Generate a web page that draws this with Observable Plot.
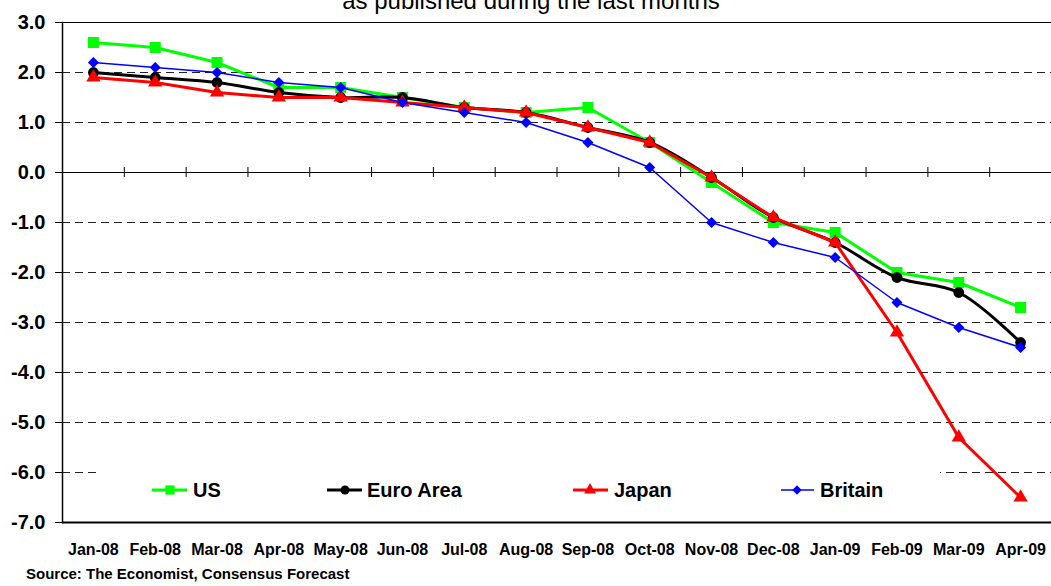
<!DOCTYPE html>
<html>
<head>
<meta charset="utf-8">
<script src="https://cdn.jsdelivr.net/npm/d3@7"></script>
<script src="https://cdn.jsdelivr.net/npm/@observablehq/plot@0.6"></script>
<style>
  html, body { margin: 0; padding: 0; background: #fff; }
  body { width: 1051px; height: 586px; position: relative; overflow: hidden; font-family: "Liberation Sans", Arial, sans-serif; }
  #chart { position: absolute; left: 0; top: 0; }
  .title { position: absolute; top: -10.8px; left: 0; width: 1062px; text-align: center; font-size: 24px; line-height: 24px; color: #000; white-space: nowrap; }
  .source { position: absolute; top: 565.7px; left: 26px; font-size: 15px; line-height: 15px; font-weight: bold; color: #000; white-space: nowrap; }
  #legend { position: absolute; left: 0; top: 0; pointer-events: none; }
</style>
</head>
<body>
<div id="chart"></div>
<div class="title">as published during the last months</div>
<div class="source">Source: The Economist, Consensus Forecast</div>
<div id="legend"></div>
<script>
// ---- data ----
const months = ["Jan-08","Feb-08","Mar-08","Apr-08","May-08","Jun-08","Jul-08","Aug-08","Sep-08","Oct-08","Nov-08","Dec-08","Jan-09","Feb-09","Mar-09","Apr-09"];
const us      = [2.6, 2.5, 2.2, 1.7, 1.7, 1.5, 1.3, 1.2, 1.3, 0.6, -0.2, -1.0, -1.2, -2.0, -2.2, -2.7];
const euro    = [2.0, 1.9, 1.8, 1.6, 1.5, 1.5, 1.3, 1.2, 0.9, 0.6, -0.1, -0.9, -1.4, -2.1, -2.4, -3.4];
const japan   = [1.9, 1.8, 1.6, 1.5, 1.5, 1.4, 1.3, 1.2, 0.9, 0.6, -0.1, -0.9, -1.4, -3.2, -5.3, -6.5];
const britain = [2.2, 2.1, 2.0, 1.8, 1.7, 1.4, 1.2, 1.0, 0.6, 0.1, -1.0, -1.4, -1.7, -2.6, -3.1, -3.5];
const yTicks  = [3, 2, 1, 0, -1, -2, -3, -4, -5, -6, -7];
const gridValues = [2, 1, -1, -2, -3, -4, -5, -6];

const seriesDefs = [
  {name: "US",        values: us,      color: "#00ff00", width: 3,   symbol: "square",   r: 6.2, curve: "linear"},
  {name: "Euro Area", values: euro,    color: "#000000", width: 3,   symbol: "circle",   r: 5.4, curve: "catmull-rom"},
  {name: "Japan",     values: japan,   color: "#ff0000", width: 3,   symbol: "triangle", r: 5.3, curve: "linear"},
  {name: "Britain",   values: britain, color: "#0000ff", width: 1.5, symbol: "diamond2", r: 5.0, curve: "linear"}
];

const W = 1051, H = 560;
const mL = 62, mR = 0, mT = 22, mB = 38;
const step = (W - mL - mR) / months.length;

const marks = [
  Plot.ruleY(gridValues, {stroke: "#222", strokeWidth: 1, strokeDasharray: "8,5"}),
  Plot.ruleY([3], {stroke: "#000", strokeWidth: 1.2}),
  Plot.ruleY([-7], {stroke: "#000", strokeWidth: 2}),
  Plot.ruleY([0], {stroke: "#000", strokeWidth: 1}),
  Plot.ruleX(months.slice(1), {x: d => d, y1: -0.1, y2: 0.1, dx: -step / 2, stroke: "#000", strokeWidth: 1}),
  Plot.frame({anchor: "left", stroke: "#000", strokeWidth: 1.5}),
  Plot.axisY({ticks: yTicks, tickFormat: d => d.toFixed(1), tickSize: 7, tickPadding: 10, fontSize: 20, fontWeight: "bold", label: null}),
  Plot.axisX({tickSize: 0, tickPadding: 21, fontSize: 16, fontWeight: "bold", label: null})
];

for (const s of seriesDefs) {
  const rows = months.map((m, i) => ({month: m, value: s.values[i]}));
  marks.push(Plot.line(rows, {x: "month", y: "value", stroke: s.color, strokeWidth: s.width, curve: s.curve}));
  marks.push(Plot.dot(rows, {x: "month", y: "value", fill: s.color, stroke: "none", symbol: s.symbol, r: s.r}));
}

const chart = Plot.plot({
  width: W, height: H,
  marginLeft: mL, marginRight: mR, marginTop: mT, marginBottom: mB,
  style: {fontFamily: "'Liberation Sans', Arial, sans-serif", color: "#000", background: "#fff", overflow: "visible"},
  x: {type: "band", domain: months, padding: 0, round: false},
  y: {domain: [-7, 3]},
  marks
});
document.getElementById("chart").appendChild(chart);

// ---- legend (inside plot, white box) ----
const legendItems = [
  {lineX1: 152, lineX2: 187, markX: 170, textX: 193},
  {lineX1: 327, lineX2: 362, markX: 345, textX: 367},
  {lineX1: 573, lineX2: 608, markX: 590, textX: 614},
  {lineX1: 781, lineX2: 814, markX: 797, textX: 820}
];
const ly = 490;
const lsvg = d3.select("#legend").append("svg").attr("width", W).attr("height", 586);
lsvg.append("rect").attr("x", 100).attr("y", 462).attr("width", 840).attr("height", 52).attr("fill", "#fff");
const symMap = {square: d3.symbolSquare, circle: d3.symbolCircle, triangle: d3.symbolTriangle, diamond2: d3.symbolDiamond2};
seriesDefs.forEach((s, i) => {
  const p = legendItems[i];
  lsvg.append("line").attr("x1", p.lineX1).attr("x2", p.lineX2).attr("y1", ly).attr("y2", ly)
    .attr("stroke", s.color).attr("stroke-width", s.width);
  const size = Math.PI * s.r * s.r * 0.7;
  lsvg.append("path").attr("d", d3.symbol(symMap[s.symbol], size)()).attr("transform", `translate(${p.markX},${ly})`).attr("fill", s.color);
  lsvg.append("text").attr("x", p.textX).attr("y", ly + 7).attr("font-size", 20).attr("font-weight", "bold")
    .attr("font-family", "'Liberation Sans', Arial, sans-serif").attr("fill", "#000").text(s.name);
});
</script>
</body>
</html>
